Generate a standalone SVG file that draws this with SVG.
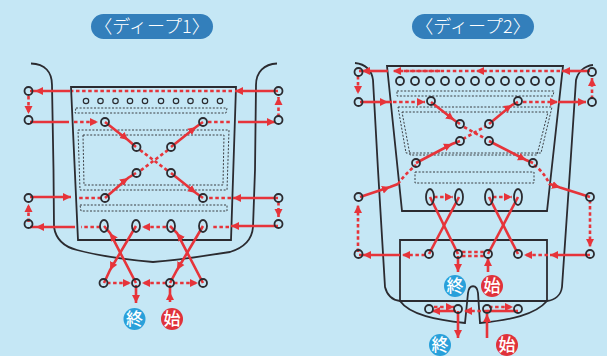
<svg xmlns="http://www.w3.org/2000/svg" width="607" height="356" viewBox="0 0 607 356">
<style>
.o{fill:none;stroke:#2b2b30;stroke-width:1.8}
.e{fill:none;stroke:#2b2b30;stroke-width:1.8}
.h{fill:none;stroke:#2b2b30;stroke-width:1.2}
.k{fill:none;stroke:#2b2b30;stroke-width:.9;stroke-dasharray:2 1.6}
.s{fill:none;stroke:#e6343a;stroke-width:2.6}
.d{fill:none;stroke:#e6343a;stroke-width:2.6;stroke-dasharray:3.5 2.6}
.t{marker-end:url(#ah)}
.m{marker-mid:url(#ah)}
.p{fill:#337fbb}
.l{fill:#fff;font-family:"Noto Sans CJK JP",sans-serif;font-size:18px;font-weight:300;text-anchor:middle}
.b{fill:#fff;font-family:"Noto Sans CJK JP",sans-serif;font-size:17px;font-weight:500;text-anchor:middle}
.blue{fill:#29a0da}
.red{fill:#e0323a}
</style>
<defs><marker id="ah" markerUnits="userSpaceOnUse" markerWidth="9" markerHeight="9" refX="8" refY="4.500" orient="auto"><path d="M0,.5L8,4.500L0,8.500Z" fill="#e6343a"/></marker></defs>
<rect width="607" height="356" fill="#c5e7f5"/>
<g id="deep1-garment">
<path class="o" d="M31,63.5C45,64 52,72 52,85L53.500,170L54,227C56,240 65,247 77,250C100,256 130,260 153,262C178,260 205,256 230,252C243,248 252,240 253,227L255,170L256,85C256,72 264,64 277,63.500"/>
<path class="o" d="M71,87H236L231,240H78Z"/>
<path class="k" d="M76,108H227L226,113H75Z"/>
<path class="k" d="M78,130H229L227,190H80Z"/>
<path class="k" d="M83,135H224L223,185H84Z"/>
<path class="k" d="M80,205H227V211H81Z"/>
</g>
<g id="deep2-garment">
<path class="o" d="M355,63C366,64 372,71 373,80L378,170L385,287C387,295 392,300 400,301H547C555,300 561,295 562,287L570,170L576,80C578,72 584,66 593,65"/>
<path class="o" d="M387,66H563L547,211H402Z"/>
<path class="o" d="M400,301V240H547V301C535,315 510,320 480,323L478,293C477,284 469,284 468,293L465,323C437,320 410,315 400,301Z"/>
<path class="k" d="M397,91H554L553,96H397Z"/>
<path class="k" d="M398,107H552L541,153H406Z"/>
<path class="k" d="M402,112H548L537,155H410Z"/>
<path class="k" d="M415,172H534V183H415Z"/>
</g>
<g id="connectors">
<path class="s t" d="M278,91H235"/><path class="d" d="M232,91H72"/><path class="s m" d="M70,91H35L30,91"/>
<path class="d t" d="M28.500,96V114"/><path class="s" d="M30,122H69"/><path class="d t" d="M74,122H98"/>
<path class="s m" d="M105,122L128,140L136,147"/><path class="d" d="M140,150L168,171"/><path class="s m" d="M171,173L196,193L203,198"/>
<path class="s t" d="M278,198H233"/><path class="d" d="M231,198H208"/>
<path class="d t" d="M278.500,117V97"/><path class="d" d="M208,122H232"/><path class="s t" d="M238,122H275"/>
<path class="s m" d="M171,147L196,127L203,122"/><path class="d" d="M168,150L140,171"/><path class="s m" d="M105,198L128,178L136,173"/>
<path class="d" d="M101,198H77"/><path class="s t" d="M30,197H71"/>
<path class="d t" d="M28.500,222V204"/><path class="d t" d="M278.500,202V217"/>
<path class="s t" d="M278,226H231"/><path class="d" d="M229,227H212"/>
<path class="s m" d="M203,226L177,270L170,283"/><path class="s m" d="M203,283L177,233L170,226"/><path class="d t" d="M166,227H142"/>
<path class="s m" d="M136,226L110,270L104,283"/><path class="s m" d="M136,283L110,233L104,226"/><path class="d" d="M100,227H81"/><path class="s m" d="M75,227H36L30,227"/>
<path class="d t" d="M107,283H131"/><path class="d t" d="M166,283H142"/><path class="d t" d="M174,283H198"/>
<path class="s t" d="M136,285V303"/><path class="s m" d="M170,302V292V285"/>
<path class="s t" d="M590,71H562"/><path class="d m" d="M560,71H476L396,71"/><path class="d t" d="M440,71H393"/><path class="s m" d="M388,71H362L359,71"/>
<path class="d t" d="M358,76V94"/><path class="s m" d="M360,102H388H392"/><path class="d t" d="M393,102H425"/>
<path class="s m" d="M431,102L454,120L460,124"/><path class="d" d="M464,127L486,139"/><path class="s m" d="M489,141L526,160L533,163"/>
<path class="d" d="M534,165Q544,172 550,185"/><path class="s m" d="M550,184L560,187.500L590,197"/>
<path class="d t" d="M590,200V247"/><path class="s t" d="M590,255H550"/><path class="d t" d="M548,255H524"/>
<path class="s" d="M518,254L489,197"/><path class="s" d="M488,254L518,197"/><path class="s" d="M429,254L459,197"/><path class="s" d="M458,254L430,197"/>
<path class="d t" d="M434,197H453"/><path class="d t" d="M493,197H512"/>
<path class="d" d="M462,252H485"/><path class="d" d="M462,256H485"/>
<path class="d t" d="M425,255H402"/><path class="s m" d="M400,255H363L359,255"/>
<path class="d t" d="M358,252V205"/><path class="s m" d="M360,197L390,187L398,184"/><path class="d" d="M398,184Q405,174 416,165"/>
<path class="s m" d="M416,163L452,144L460,141"/><path class="d" d="M463,139L486,126"/><path class="s m" d="M489,124L512,105L518,102"/>
<path class="d t" d="M523,102H558"/><path class="s t" d="M558,102H586"/><path class="d t" d="M592,99V78"/>
<path class="s t" d="M458,256V272"/><path class="s t" d="M488,272V258"/>
<path class="d t" d="M434,307H454"/><path class="s t" d="M456,311H432"/>
<path class="d t" d="M487,311H464"/><path class="d t" d="M489,307H513"/><path class="s" d="M487,311H518"/>
<path class="s t" d="M458,311V338"/><path class="s t" d="M487,338V314"/>
</g>
<g id="title-1"><rect class="p" x="91" y="14" width="122" height="25" rx="12.500"/><text class="l" x="152" y="33">〈ディープ1〉</text></g>
<g id="title-2"><rect class="p" x="412" y="14" width="122" height="25" rx="12.500"/><text class="l" x="473" y="33">〈ディープ2〉</text></g>
<g id="holes-1">
<circle class="h" cx="86" cy="101" r="2.700"/><circle class="h" cx="100.500" cy="101" r="2.700"/><circle class="h" cx="115.500" cy="101" r="2.700"/><circle class="h" cx="130" cy="101" r="2.700"/><circle class="h" cx="145" cy="101" r="2.700"/><circle class="h" cx="161" cy="101" r="2.700"/><circle class="h" cx="176" cy="101" r="2.700"/><circle class="h" cx="190.500" cy="101" r="2.700"/><circle class="h" cx="205" cy="101" r="2.700"/><circle class="h" cx="220" cy="101" r="2.700"/>
</g>
<g id="holes-2">
<circle class="e" cx="400" cy="81" r="4"/><circle class="e" cx="415" cy="81" r="4"/><circle class="e" cx="430" cy="81" r="4"/><circle class="e" cx="445" cy="81" r="4"/><circle class="e" cx="460" cy="81" r="4"/><circle class="e" cx="475" cy="81" r="4"/><circle class="e" cx="490" cy="81" r="4"/><circle class="e" cx="505" cy="81" r="4"/><circle class="e" cx="520" cy="81" r="4"/><circle class="e" cx="535" cy="81" r="4"/><circle class="e" cx="550" cy="81" r="4"/>
</g>
<g id="eyelets-1">
<circle class="e" cx="28.500" cy="91" r="4"/><circle class="e" cx="28.500" cy="120" r="4"/><circle class="e" cx="278.500" cy="91" r="4"/><circle class="e" cx="278.500" cy="120" r="4"/>
<circle class="e" cx="105" cy="122" r="4"/><circle class="e" cx="203" cy="122" r="4"/><circle class="e" cx="136.500" cy="147" r="4"/><circle class="e" cx="171" cy="147" r="4"/><circle class="e" cx="136.500" cy="173" r="4"/><circle class="e" cx="171" cy="173" r="4"/><circle class="e" cx="105" cy="198" r="4"/><circle class="e" cx="203" cy="198" r="4"/>
<circle class="e" cx="28.500" cy="198" r="4"/><circle class="e" cx="28.500" cy="224" r="4"/><circle class="e" cx="278.500" cy="198" r="4"/><circle class="e" cx="278.500" cy="224" r="4"/>
<ellipse class="e" cx="104" cy="226" rx="4" ry="6"/><ellipse class="e" cx="136" cy="226" rx="4" ry="6"/><ellipse class="e" cx="171" cy="226" rx="4" ry="6"/><ellipse class="e" cx="203" cy="226" rx="4" ry="6"/>
<circle class="e" cx="103.500" cy="283" r="4"/><circle class="e" cx="136" cy="283" r="4"/><circle class="e" cx="170" cy="283" r="4"/><circle class="e" cx="203" cy="283" r="4"/>
</g>
<g id="eyelets-2">
<circle class="e" cx="358.500" cy="72" r="4"/><circle class="e" cx="358.500" cy="102" r="4"/><circle class="e" cx="592" cy="72" r="4"/><circle class="e" cx="592" cy="102" r="4"/>
<circle class="e" cx="431" cy="101" r="4"/><circle class="e" cx="518" cy="101" r="4"/><circle class="e" cx="460" cy="124" r="4"/><circle class="e" cx="489" cy="124" r="4"/><circle class="e" cx="460" cy="141" r="4"/><circle class="e" cx="489" cy="141" r="4"/><circle class="e" cx="416" cy="163" r="4"/><circle class="e" cx="533" cy="163" r="4"/>
<ellipse class="e" cx="430" cy="197" rx="4" ry="8"/><ellipse class="e" cx="459" cy="197" rx="4" ry="8"/><ellipse class="e" cx="489" cy="197" rx="4" ry="8"/><ellipse class="e" cx="518" cy="197" rx="4" ry="8"/>
<circle class="e" cx="358.500" cy="197" r="4"/><circle class="e" cx="358.500" cy="254" r="4"/><circle class="e" cx="590" cy="197" r="4"/><circle class="e" cx="590" cy="254" r="4"/>
<circle class="e" cx="429" cy="254" r="4"/><circle class="e" cx="458" cy="254" r="4"/><circle class="e" cx="488" cy="254" r="4"/><circle class="e" cx="518" cy="254" r="4"/>
<circle class="e" cx="429" cy="309" r="4"/><circle class="e" cx="458" cy="309" r="4"/><circle class="e" cx="487" cy="309" r="4"/><circle class="e" cx="518" cy="309" r="4"/>
</g>
<g id="end-1"><circle class="blue" cx="134.500" cy="319" r="11"/><text class="b" x="134.500" y="325">終</text></g>
<g id="start-1"><circle class="red" cx="172" cy="319" r="11"/><text class="b" x="172" y="325">始</text></g>
<g id="end-2a"><circle class="blue" cx="455" cy="286" r="11"/><text class="b" x="455" y="292">終</text></g>
<g id="start-2a"><circle class="red" cx="492" cy="286" r="11"/><text class="b" x="492" y="292">始</text></g>
<g id="end-2b"><circle class="blue" cx="440" cy="345" r="11"/><text class="b" x="440" y="351">終</text></g>
<g id="start-2b"><circle class="red" cx="507" cy="345" r="11"/><text class="b" x="507" y="351">始</text></g>
</svg>
